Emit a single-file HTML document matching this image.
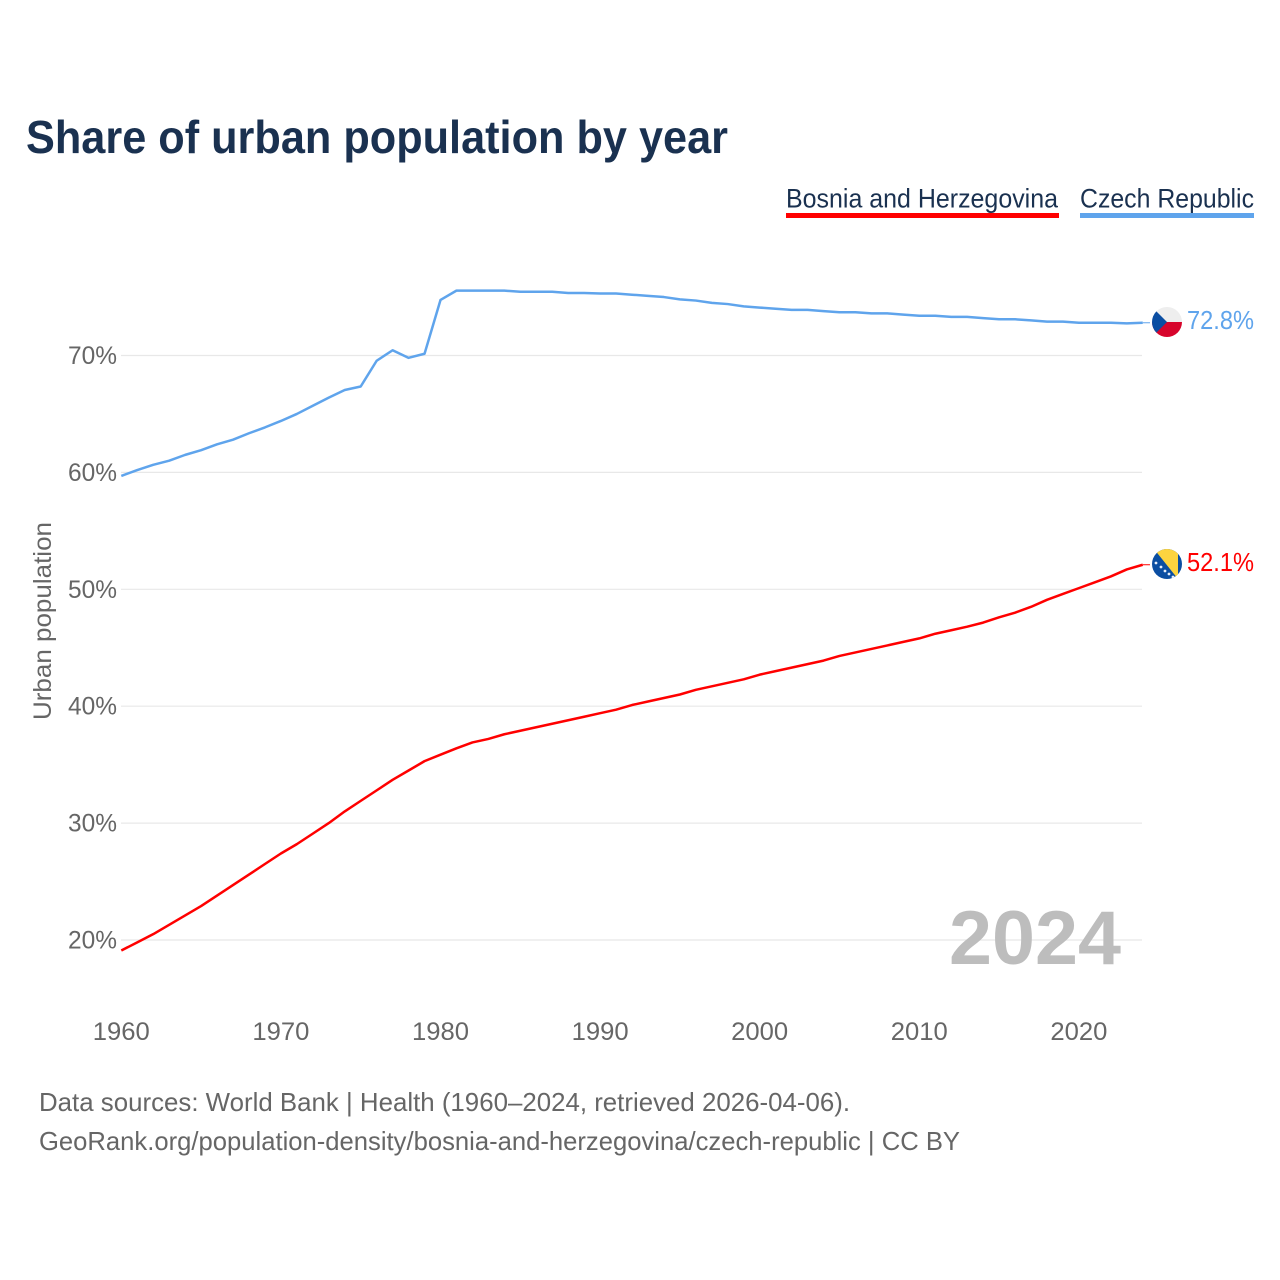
<!DOCTYPE html>
<html lang="en">
<head>
<meta charset="utf-8">
<title>Share of urban population by year</title>
<style>
  html, body { margin: 0; padding: 0; background: #fff; }
  svg { display: block; font-family: "Liberation Sans", sans-serif; }
</style>
</head>
<body>
<svg id="chart" width="1280" height="1280" viewBox="0 0 1280 1280" xmlns="http://www.w3.org/2000/svg">
  <rect x="0" y="0" width="1280" height="1280" fill="#fff"/>
  <text x="26" y="153" font-size="46" font-weight="700" fill="#1a3150" textLength="702" lengthAdjust="spacingAndGlyphs">Share of urban population by year</text>

  <g>
    <g>
      <text x="786" y="207.5" font-size="26.5" fill="#1a3150" textLength="272" lengthAdjust="spacingAndGlyphs">Bosnia and Herzegovina</text>
      <rect x="786" y="213" width="273" height="5" fill="#ff0000"/>
    </g>
    <g>
      <text x="1080" y="207.5" font-size="26.5" fill="#1a3150" textLength="174" lengthAdjust="spacingAndGlyphs">Czech Republic</text>
      <rect x="1080" y="213" width="174" height="5" fill="#5fa4ec"/>
    </g>
  </g>

  <g id="grid"></g>
  <g id="yticks"></g>
  <g id="xticks"></g>

  <text transform="translate(51,720) rotate(-90)" x="0" y="0" font-size="25" fill="#666" textLength="198" lengthAdjust="spacingAndGlyphs">Urban population</text>

  <text x="949" y="964" font-size="76" font-weight="700" fill="#bdbdbd" textLength="172" lengthAdjust="spacingAndGlyphs">2024</text>

  <g id="series"></g>
  <g id="ends"></g>

  <defs>
    <clipPath id="flag-clip-cz"><circle cx="1167" cy="322" r="15"/></clipPath>
    <clipPath id="flag-clip-ba"><circle cx="1167" cy="564" r="15"/></clipPath>
  </defs>
  <g clip-path="url(#flag-clip-cz)">
    <rect x="1152" y="307" width="30" height="15" fill="#eeeeee"/>
    <rect x="1152" y="322" width="30" height="15" fill="#d7052c"/>
    <polygon points="1147,302 1167,322 1147,342" fill="#0b4ea2"/>
  </g>
  <g clip-path="url(#flag-clip-ba)">
    <rect x="1152" y="549" width="30" height="30" fill="#0b4ea2"/>
    <polygon points="1154,549 1178,549 1178,579" fill="#fdd43f"/>
    <g fill="#e8eef8">
      <circle cx="1156" cy="563" r="1.4"/>
      <circle cx="1161" cy="567" r="1.4"/>
      <circle cx="1165" cy="571" r="1.4"/>
      <circle cx="1169" cy="574" r="1.4"/>
      <circle cx="1173" cy="577" r="1.4"/>
    </g>
  </g>

  <g>
    <text x="39" y="1111" font-size="26" fill="#666" textLength="811" lengthAdjust="spacingAndGlyphs">Data sources: World Bank | Health (1960–2024, retrieved 2026-04-06).</text>
    <text x="39" y="1150" font-size="26" fill="#666" textLength="921" lengthAdjust="spacingAndGlyphs">GeoRank.org/population-density/bosnia-and-herzegovina/czech-republic | CC BY</text>
  </g>
</svg>

<script>
const startYear = 1960;
const xTickYears = [1960, 1970, 1980, 1990, 2000, 2010, 2020];
const yTickValues = [20, 30, 40, 50, 60, 70];
const czechValues = [
  59.7,60.2,60.65,61.0,61.5,61.9,62.4,62.8,63.35,63.85,
  64.4,65.0,65.7,66.4,67.05,67.35,69.55,70.45,69.8,70.15,
  74.75,75.55,75.55,75.55,75.55,75.45,75.45,75.45,75.35,75.35,
  75.3,75.3,75.2,75.1,75.0,74.8,74.7,74.5,74.4,74.2,
  74.1,74.0,73.9,73.9,73.8,73.7,73.7,73.6,73.6,73.5,
  73.4,73.4,73.3,73.3,73.2,73.1,73.1,73.0,72.9,72.9,
  72.8,72.8,72.8,72.75,72.8
];
const bosniaValues = [
  19.1,19.8,20.5,21.3,22.1,22.9,23.8,24.7,25.6,26.5,
  27.4,28.2,29.1,30.0,31.0,31.9,32.8,33.7,34.5,35.3,
  35.85,36.4,36.9,37.2,37.6,37.9,38.2,38.5,38.8,39.1,
  39.4,39.7,40.1,40.4,40.7,41.0,41.4,41.7,42.0,42.3,
  42.7,43.0,43.3,43.6,43.9,44.3,44.6,44.9,45.2,45.5,
  45.8,46.2,46.5,46.8,47.15,47.6,48.0,48.5,49.1,49.6,
  50.1,50.6,51.1,51.7,52.1
];

const NS = 'http://www.w3.org/2000/svg';
function xScale(year) { return 121.3 + (year - 1960) * 15.96; }
function yScale(value) { return 940 - (value - 20) * 11.69; }
function make(tag, attrs, parent, content) {
  const el = document.createElementNS(NS, tag);
  for (const key in attrs) el.setAttribute(key, attrs[key]);
  if (content !== undefined) el.textContent = content;
  parent.appendChild(el);
  return el;
}

const gridGroup = document.getElementById('grid');
const yTickGroup = document.getElementById('yticks');
const xTickGroup = document.getElementById('xticks');
const seriesGroup = document.getElementById('series');
const endGroup = document.getElementById('ends');

yTickValues.forEach(function (v) {
  const line = make('line', { x1: 121, x2: 1142, y1: yScale(v), y2: yScale(v), stroke: '#e8e8e8', 'stroke-width': 1.2 }, gridGroup);
  
  
  const label = make('text', { x: 117, y: yScale(v) + 8.5, 'text-anchor': 'end', 'font-size': 25, fill: '#666', textLength: 49, lengthAdjust: 'spacingAndGlyphs' }, yTickGroup, v + '%');
  
  
});

xTickYears.forEach(function (year) {
  const label = make('text', { x: xScale(year), y: 1040, 'text-anchor': 'middle', 'font-size': 25, fill: '#666', textLength: 57, lengthAdjust: 'spacingAndGlyphs' }, xTickGroup, String(year));
  
  
});

function drawSeries(values, color, seriesName) {
  const points = values.map(function (v, i) {
    return xScale(startYear + i).toFixed(2) + ',' + yScale(v).toFixed(2);
  }).join(' ');
  const line = make('polyline', { points: points, fill: 'none', stroke: color, 'stroke-width': 2.5, 'stroke-linejoin': 'round' }, seriesGroup);
  
  

  const last = values[values.length - 1];
  const lastYear = startYear + values.length - 1;
  const leader = make('line', { x1: xScale(lastYear), x2: 1150, y1: yScale(last), y2: yScale(last), stroke: color, 'stroke-width': 1 }, endGroup);
  
  
  const label = make('text', { x: 1187, y: yScale(last) + 6, 'font-size': 25.5, fill: color, textLength: 67, lengthAdjust: 'spacingAndGlyphs' }, endGroup, last.toFixed(1) + '%');
  
  
}

drawSeries(czechValues, '#5fa4ec', 'czech-republic');
drawSeries(bosniaValues, '#ff0000', 'bosnia');
</script>
</body>
</html>
